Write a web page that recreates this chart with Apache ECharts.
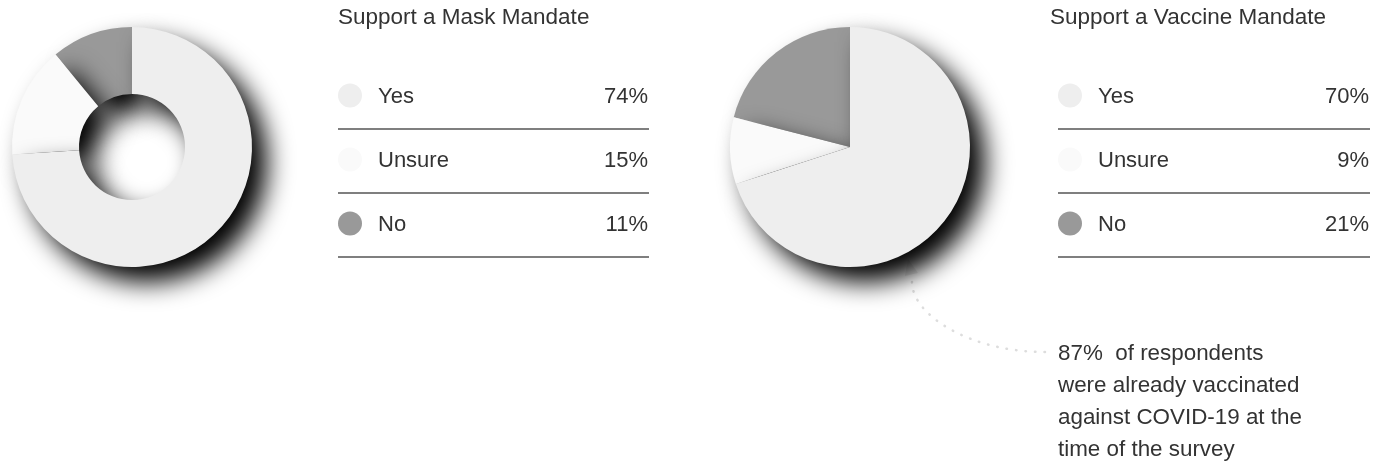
<!DOCTYPE html>
<html>
<head>
<meta charset="utf-8">
<script src="https://cdn.jsdelivr.net/npm/echarts@6/dist/echarts.min.js"></script>
<style>
html,body{margin:0;padding:0;background:#fff;}
#chart{width:1385px;height:464px;}
</style>
</head>
<body>
<div id="chart"></div>
<script>
const categories = ['Yes', 'Unsure', 'No'];
const maskValues = [74, 15, 11];
const vaccineValues = [70, 9, 21];
const sliceColors = ['#eeeeee', '#fafafa', '#999999'];
const chartTitles = ['Support a Mask Mandate', 'Support a Vaccine Mandate'];
const noteLines = ['87%  of respondents', 'were already vaccinated', 'against COVID-19 at the', 'time of the survey'];

const FONT = '"Liberation Sans", Arial, Helvetica, sans-serif';
const chart = echarts.init(document.getElementById('chart'), null, {renderer: 'canvas'});

// slices drawn in reverse order (No first, Yes last), counter-clockwise from the top,
// which gives the same geometry as clockwise Yes/Unsure/No but stacks Yes on top
function pieData(values) {
  return categories.map((c, i) => ({name: c, value: values[i], itemStyle: {color: sliceColors[i]}})).reverse();
}

const shadowStyle = {shadowBlur: 26, shadowColor: 'rgba(0,0,0,1)', shadowOffsetX: 15, shadowOffsetY: 15};

const legends = [
  {values: maskValues, title: chartTitles[0], titleX: 338, x0: 338, valueRight: 648, lineEnd: 649},
  {values: vaccineValues, title: chartTitles[1], titleX: 1050, x0: 1058, valueRight: 1369, lineEnd: 1370}
];

const graphics = [];
legends.forEach(lg => {
  graphics.push({type: 'text', x: lg.titleX, y: 18, style: {text: lg.title, font: '22.5px ' + FONT, fill: '#333', verticalAlign: 'middle'}});
  categories.forEach((c, j) => {
    const cy = 97 + 64 * j;
    graphics.push({type: 'circle', shape: {cx: lg.x0 + 12, cy: cy - 1.5, r: 12}, style: {fill: sliceColors[j]}});
    graphics.push({type: 'text', x: lg.x0 + 40, y: cy, style: {text: c, font: '22px ' + FONT, fill: '#333', verticalAlign: 'middle'}});
    graphics.push({type: 'text', x: lg.valueRight, y: cy, style: {text: lg.values[j] + '%', font: '22px ' + FONT, fill: '#333', verticalAlign: 'middle', align: 'right'}});
    graphics.push({type: 'line', shape: {x1: lg.x0, y1: 129 + 64 * j, x2: lg.lineEnd, y2: 129 + 64 * j}, style: {stroke: '#555', lineWidth: 1.5}});
  });
});

noteLines.forEach((t, i) => {
  graphics.push({type: 'text', x: 1058, y: 354 + 32 * i, style: {text: t, font: '22.4px ' + FONT, fill: '#333', verticalAlign: 'middle'}});
});
graphics.push({type: 'bezierCurve', shape: {x1: 1045, y1: 352, cpx1: 970, cpy1: 352, cpx2: 912, cpy2: 315, x2: 912, y2: 282},
  style: {stroke: '#dddddd', lineWidth: 2.5, lineDash: [0.5, 9], lineCap: 'round', fill: null}});
graphics.push({type: 'polygon', shape: {points: [[908, 259], [905, 276], [918, 273]]}, style: {fill: '#eeeeee'}});

chart.setOption({
  animation: false,
  backgroundColor: '#ffffff',
  series: [
    {type: 'pie', center: [132, 147], radius: [53, 120], startAngle: 90, clockwise: false, silent: true,
      label: {show: false}, labelLine: {show: false}, itemStyle: shadowStyle, data: pieData(maskValues)},
    {type: 'pie', center: [850, 147], radius: [0, 120], startAngle: 90, clockwise: false, silent: true,
      label: {show: false}, labelLine: {show: false}, itemStyle: shadowStyle, data: pieData(vaccineValues)}
  ],
  graphic: graphics
});
</script>
</body>
</html>
